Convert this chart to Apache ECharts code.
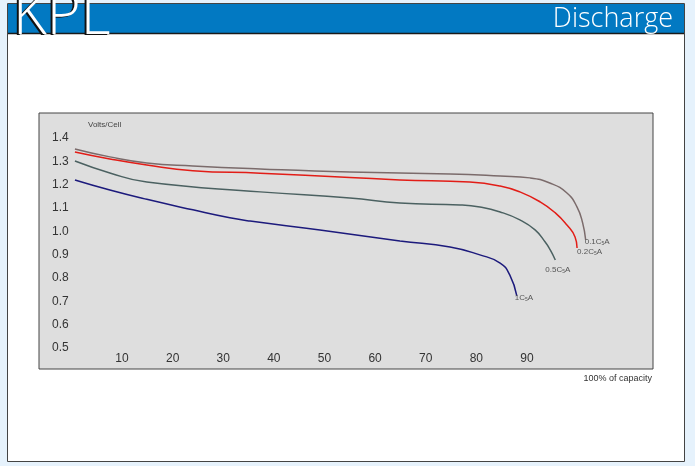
<!DOCTYPE html>
<html>
<head>
<meta charset="utf-8">
<script src="https://cdn.jsdelivr.net/npm/echarts@6/dist/echarts.min.js"></script>
<style>
html,body{margin:0;padding:0;background:#e6f2fc;}
#c{width:695px;height:466px;}
</style>
</head>
<body>
<div id="c"></div>
<script>
// Data (x = % of capacity, y = Volts/Cell)
var cap01 = [0.7, 7.6, 14.9, 24, 37.3, 55.0, 74.8, 84.7, 90.6, 94.5, 97.9, 99.9, 101.0, 101.6];
var volt01 = [1.353, 1.319, 1.293, 1.28, 1.267, 1.254, 1.246, 1.237, 1.229, 1.207, 1.164, 1.104, 1.036, 0.963];
var cap02 = [0.7, 7.6, 14.9, 24, 37.3, 55.0, 64.9, 78.7, 84.7, 88.6, 92.6, 95.6, 97.9, 99.5, 99.9];
var volt02 = [1.34, 1.31, 1.284, 1.26, 1.249, 1.231, 1.22, 1.211, 1.194, 1.169, 1.126, 1.079, 1.027, 0.976, 0.928];
var cap05 = [0.7, 7.6, 14.9, 37.3, 55.0, 64.9, 76.8, 80.7, 84.7, 88.6, 91.6, 93.6, 94.6, 95.6];
var volt05 = [1.301, 1.25, 1.211, 1.169, 1.143, 1.121, 1.113, 1.104, 1.083, 1.049, 1.006, 0.954, 0.92, 0.877];
var cap1 = [0.7, 7.6, 14.9, 24, 31.3, 35.3, 49.1, 64.9, 74.8, 80.7, 84.7, 86.6, 88.0];
var volt1 = [1.22, 1.177, 1.137, 1.092, 1.058, 1.044, 1.006, 0.959, 0.933, 0.899, 0.864, 0.813, 0.723];
var seriesNames = ['0.1C5A', '0.2C5A', '0.5C5A', '1C5A'];
var xTicks = [10, 20, 30, 40, 50, 60, 70, 80, 90];
var yTicks = [0.5, 0.6, 0.7, 0.8, 0.9, 1.0, 1.1, 1.2, 1.3, 1.4];

function pairs(xs, ys) { return xs.map(function (x, i) { return [x, ys[i]]; }); }

var labelRich = {
  a: { fontSize: 8, color: '#555', fontFamily: 'Liberation Sans' },
  s: { fontSize: 5, color: '#555', fontFamily: 'Liberation Sans', padding: [3, 0, 0, 0] }
};
function lbl(name) {
  var i = name.indexOf('C');
  return '{a|' + name.slice(0, i + 1) + '}{s|5}{a|A}';
}
function mkSeries(name, data, color, offset) {
  return {
    name: name, type: 'line', data: data, smooth: 0.5,
    symbol: 'none', lineStyle: { color: color, width: 1.5 },
    endLabel: { show: true, formatter: function () { return lbl(name); }, rich: labelRich, offset: offset, distance: 2 },
    silent: true, animation: false
  };
}

var logoFont = '300 58px "Open Sans"';
var chart = echarts.init(document.getElementById('c'), null, { renderer: 'canvas' });
chart.setOption({
  animation: false,
  backgroundColor: 'transparent',
  graphic: [
    { type: 'rect', shape: { x: 7.5, y: 3.5, width: 677, height: 458 }, style: { fill: '#ffffff', stroke: '#444', lineWidth: 1 }, z: -10 },
    { type: 'rect', shape: { x: 8, y: 4, width: 676, height: 29 }, style: { fill: '#0279c2' }, z: -9 },
    { type: 'line', shape: { x1: 8, y1: 33.5, x2: 684, y2: 33.5 }, style: { stroke: '#1a1a1a', lineWidth: 1.5 }, z: -8 },
    { type: 'text', left: 11, top: -11, style: { text: 'KPL', fill: '#111', font: logoFont }, z: 1 },
    { type: 'text', left: 13, top: -12, style: { text: 'KPL', fill: '#ffffff', font: logoFont }, z: 2 },
    { type: 'text', right: 22, top: 6, style: { text: 'Discharge', fill: '#ffffff', font: '300 27px "Open Sans"' }, z: 2 },
    { type: 'text', left: 88, top: 121, style: { text: 'Volts/Cell', fill: '#444', font: '8px "Liberation Sans"' }, z: 5 },
    { type: 'text', right: 43, top: 374, style: { text: '100% of capacity', fill: '#333', font: '9px "Liberation Sans"' }, z: 5 }
  ],
  grid: { left: 39, right: 42, top: 113, bottom: 97, show: true, backgroundColor: '#dedede', borderColor: '#444', borderWidth: 1 },
  xAxis: {
    type: 'value', min: -6.4, max: 114.9,
    axisLine: { show: false }, axisTick: { show: false }, splitLine: { show: false },
    axisLabel: { inside: true, margin: 4, customValues: xTicks, color: '#333', fontSize: 12, fontFamily: 'Liberation Sans', formatter: function (v) { return String(v); } }
  },
  yAxis: {
    type: 'value', min: 0.41, max: 1.507,
    axisLine: { show: false }, axisTick: { show: false }, splitLine: { show: false },
    axisLabel: { inside: true, margin: 13, customValues: yTicks, color: '#333', fontSize: 12, fontFamily: 'Liberation Sans', formatter: function (v) { return v.toFixed(1); } }
  },
  series: [
    mkSeries(seriesNames[0], pairs(cap01, volt01), '#7b6b6b', [-3, 2]),
    mkSeries(seriesNames[1], pairs(cap02, volt02), '#e21d17', [-2, 4]),
    mkSeries(seriesNames[2], pairs(cap05, volt05), '#4b6161', [-12, 10]),
    mkSeries(seriesNames[3], pairs(cap1, volt1), '#1c1a7c', [-4, 2])
  ]
});
</script>
</body>
</html>
